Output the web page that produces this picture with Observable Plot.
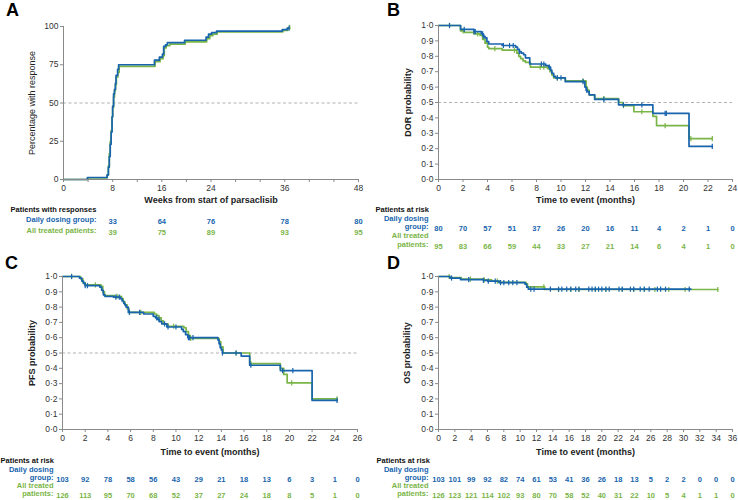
<!DOCTYPE html>
<html><head><meta charset="utf-8">
<script src="https://cdn.jsdelivr.net/npm/d3@7"></script>
<script src="https://cdn.jsdelivr.net/npm/@observablehq/plot@0.6"></script>
<style>
body{margin:0;background:#fff;font-family:"Liberation Sans",Arial,sans-serif;}
#root{position:relative;width:738px;height:500px;overflow:hidden;background:#fff;}
.panel{position:absolute;}
.letter{position:absolute;font-weight:bold;font-size:18px;line-height:18px;color:#000;}
</style></head><body><div id="root"></div>
<script>
const BLUE = "#1865ad", GREEN = "#7ab547", AXIS = "#8a8a8a", TXT = "#333";

// ---------- Panel A: cumulative response (weeks) ----------
const aDailyT = [0, 3.9, 7.1, 7.3, 7.45, 7.6, 7.75, 7.9, 8.0, 8.15, 8.3, 8.45, 8.55, 8.8, 8.97, 14.8, 15.6, 16.1, 16.3, 16.6, 16.9, 19.7, 23.2, 23.6, 24.1, 24.9, 35.6, 36.4, 36.7];
const aDailyP = [0, 1.3, 3, 8, 15, 23, 31, 41, 48, 56, 59, 63, 68, 72, 75, 78, 80, 82, 87, 88, 89.5, 91, 93, 95, 96, 97, 98, 99, 99];
const aAllT = [0, 3.9, 7.1, 7.3, 7.45, 7.6, 7.75, 7.9, 8.0, 8.15, 8.3, 8.45, 8.6, 8.85, 9.05, 14.9, 15.7, 16.2, 16.4, 16.7, 17.3, 19.8, 23.3, 23.8, 24.3, 25.0, 35.7, 36.5, 36.8];
const aAllP = [0, 1.1, 3, 9, 17, 25, 32, 41, 47, 54, 58, 62, 67, 70, 74, 77, 79, 81, 86, 87.5, 88.5, 90, 92, 94, 95, 96.5, 97.5, 99, 99.5];
const aDailyCens = [36.7];
const aAllCens = [36.8];
const aTableWeeks = [8, 16, 24, 36, 48];
const aTableDaily = [33, 64, 76, 78, 80];
const aTableAll = [39, 75, 89, 93, 95];
const aXTicks = [0, 4, 8, 12, 16, 20, 24, 28, 32, 36, 40, 44, 48];
const aXLabels = [0, 8, 16, 24, 36, 48];
const aYTicks = [0, 25, 50, 75, 100];

// ---------- Panel B: DOR ----------
const bDailyT = [0, 1.8, 2.9, 3.5, 3.65, 3.8, 3.95, 4.1, 5.2, 6.3, 6.45, 6.6, 6.75, 6.95, 7.1, 7.45, 8.75, 9.0, 9.15, 9.25, 9.4, 9.55, 10.35, 11.95, 12.05, 12.15, 12.3, 12.75, 14.7, 17.5, 20.45, 22.35];
const bDailyS = [1, 0.975, 0.96, 0.945, 0.93, 0.92, 0.895, 0.88, 0.87, 0.86, 0.845, 0.83, 0.82, 0.81, 0.79, 0.75, 0.74, 0.73, 0.71, 0.69, 0.67, 0.66, 0.635, 0.60, 0.58, 0.57, 0.55, 0.52, 0.485, 0.43, 0.215, 0.215];
const bAllT = [0, 1.8, 2.1, 2.9, 3.4, 3.6, 3.8, 4.0, 4.1, 5.2, 6.4, 6.55, 6.7, 6.9, 7.1, 7.5, 8.9, 9.1, 9.25, 9.4, 10.35, 12.05, 12.15, 12.3, 12.75, 14.7, 15.05, 15.95, 17.5, 17.8, 20.45, 22.35];
const bAllS = [1, 0.965, 0.955, 0.945, 0.935, 0.91, 0.885, 0.86, 0.85, 0.84, 0.82, 0.80, 0.785, 0.77, 0.76, 0.73, 0.72, 0.70, 0.68, 0.66, 0.64, 0.60, 0.58, 0.55, 0.525, 0.50, 0.48, 0.44, 0.41, 0.35, 0.265, 0.265];
const bDailyCens = [0.9, 2.1, 2.9, 3.0, 3.6, 3.7, 5.3, 5.8, 6.1, 6.6, 8.4, 8.6, 9.05, 9.7, 10.0, 11.8, 12.1, 13.5, 15.1, 16.6, 18.5, 18.6, 22.35];
const bAllCens = [0.9, 2.0, 3.2, 4.6, 6.2, 8.3, 8.6, 9.7, 11.8, 13.5, 15.1, 16.6, 18.5, 20.6, 22.35];
const bTableDaily = [80, 70, 57, 51, 37, 26, 20, 16, 11, 4, 2, 1, 0];
const bTableAll = [95, 83, 66, 59, 44, 33, 27, 21, 14, 6, 4, 1, 0];

// ---------- Panel C: PFS ----------
const cDailyT = [0, 1.5, 1.7, 1.85, 2.0, 3.3, 3.45, 3.6, 3.75, 4.5, 5.1, 5.25, 5.4, 5.5, 5.6, 5.8, 7.15, 8.0, 8.2, 8.35, 8.55, 8.75, 9.2, 10.5, 10.65, 10.85, 11.05, 13.7, 13.8, 13.9, 14.0, 14.1, 15.75, 16.5, 19.2, 22.0, 24.2];
const cDailyS = [1, 0.99, 0.97, 0.955, 0.94, 0.93, 0.91, 0.88, 0.87, 0.865, 0.855, 0.84, 0.825, 0.815, 0.80, 0.765, 0.755, 0.74, 0.73, 0.72, 0.705, 0.69, 0.67, 0.655, 0.64, 0.62, 0.60, 0.585, 0.56, 0.535, 0.52, 0.50, 0.48, 0.42, 0.385, 0.19, 0.19];
const cAllT = [0, 1.6, 1.8, 2.0, 3.4, 3.55, 3.7, 4.6, 5.2, 5.35, 5.5, 5.7, 5.85, 8.1, 8.3, 8.5, 8.7, 8.9, 9.3, 10.7, 10.9, 11.1, 11.25, 13.8, 13.95, 14.15, 16.5, 19.2, 19.5, 19.8, 22.0, 24.2];
const cAllS = [1, 0.985, 0.96, 0.945, 0.935, 0.90, 0.875, 0.87, 0.855, 0.835, 0.815, 0.79, 0.765, 0.755, 0.745, 0.73, 0.71, 0.69, 0.675, 0.665, 0.64, 0.615, 0.595, 0.575, 0.54, 0.50, 0.43, 0.40, 0.36, 0.305, 0.20, 0.20];
const cDailyCens = [0.8, 2.0, 2.2, 4.7, 5.0, 5.9, 6.8, 8.3, 8.5, 9.0, 9.3, 10.0, 11.1, 11.2, 11.5, 14.1, 15.3, 16.6, 19.4, 20.3, 24.2];
const cAllCens = [0.8, 2.9, 4.8, 6.9, 9.8, 11.3, 15.3, 16.6, 20.2, 24.2];
const cTableDaily = [103, 92, 78, 58, 56, 43, 29, 21, 18, 13, 6, 3, 1, 0];
const cTableAll = [126, 113, 95, 70, 68, 52, 37, 27, 24, 18, 8, 5, 1, 0];

// ---------- Panel D: OS ----------
const dDailyT = [0, 1.4, 2.7, 5.5, 6.0, 7.4, 10.6, 10.8, 11.0, 30.9];
const dDailyS = [1, 0.99, 0.98, 0.975, 0.97, 0.96, 0.95, 0.93, 0.917, 0.917];
const dAllT = [0, 1.5, 2.8, 5.6, 6.5, 7.5, 10.7, 10.9, 13.0, 34.2];
const dAllS = [1, 0.992, 0.983, 0.978, 0.97, 0.962, 0.952, 0.932, 0.915, 0.915];
const dDailyCens = [1.6, 3.7, 5.5, 6.1, 6.95, 7.6, 8.0, 8.6, 9.1, 9.6, 11.3, 11.7, 13.7, 14.7, 15.1, 15.7, 16.2, 16.8, 17.2, 18.4, 18.8, 19.2, 19.6, 20.0, 20.5, 20.9, 22.1, 22.5, 23.5, 23.9, 24.7, 25.2, 25.8, 26.8, 27.2, 27.8, 30.7];
const dAllCens = [1.3, 3.9, 5.6, 7.2, 12.9, 14.7, 16.2, 17.2, 19.2, 20.5, 22.5, 23.9, 25.2, 26.5, 28.2, 30.2, 34.2];
const dTableDaily = [103, 101, 99, 92, 82, 74, 61, 53, 41, 36, 26, 18, 13, 5, 2, 2, 0, 0, 0];
const dTableAll = [126, 123, 121, 114, 102, 93, 80, 70, 58, 52, 40, 31, 22, 10, 5, 4, 1, 1, 0];

// ---------- helpers ----------
const pts = (ts, vs) => ts.map((t, i) => ({t, s: vs[i]}));
function stepAt(curve, t) { let v = curve[0].s; for (const p of curve) { if (p.t <= t) v = p.s; else break; } return v; }
const vTick = {draw(ctx, size) { const r = Math.sqrt(size / Math.PI); ctx.moveTo(0, -r); ctx.lineTo(0, r); }};
const midDot = d => d.toFixed(1).replace(".", "\u00b7");
const range = (a, b, s) => d3.range(a, b + s / 2, s);

function panel(o) {
  const yMin = o.yDomain[0];
  const marks = [];
  if (o.dashY != null) marks.push(Plot.ruleY([o.dashY], {stroke: "#a8a8a8", strokeDasharray: "3,2.5", strokeWidth: 0.9}));
  for (const [curve, cens, color] of [[o.green, o.greenCens, GREEN], [o.blue, o.blueCens, BLUE]]) {
    marks.push(Plot.line(curve, {x: "t", y: "s", curve: "step-after", stroke: color, strokeWidth: 1.7}));
    marks.push(Plot.dot(cens, {x: d => d, y: d => stepAt(curve, d), symbol: vTick, r: 2.6, stroke: color, fill: "none", strokeWidth: 1.2}));
  }
  marks.push(Plot.ruleX([o.xDomain[0]], {stroke: AXIS}));
  marks.push(Plot.ruleY([yMin], {stroke: AXIS}));
  marks.push(Plot.axisY({ticks: o.yTicks, tickFormat: o.yFmt, tickSize: 3, tickPadding: 2, stroke: AXIS, fill: TXT, fontSize: 8.5, label: null}));
  marks.push(Plot.axisX({ticks: o.xTicks, tickFormat: o.xFmt, tickSize: 3, tickPadding: 2, stroke: AXIS, fill: TXT, fontSize: 8.5, label: null}));
  marks.push(Plot.text([o.yLabel], {text: d => d, frameAnchor: "left", textAnchor: "middle", dx: o.yLabelDx, rotate: -90, fontSize: 9, fontWeight: o.yLabelWeight, fill: "#222"}));
  marks.push(Plot.text([o.xLabel], {text: d => d, frameAnchor: "bottom", dy: o.xLabelDy, fontSize: 9, fontWeight: "bold", fill: "#222"}));
  // risk table
  const t = o.table;
  marks.push(Plot.text([t.title], {text: d => d, frameAnchor: "bottom-left", dx: t.titleDx, dy: t.titleDy, textAnchor: "start", fontSize: 7.5, fontWeight: "bold", fill: "#111"}));
  for (const row of t.rows) {
    row.labels.forEach(([lab, dy]) => {
      marks.push(Plot.text([lab], {text: d => d, frameAnchor: "bottom-left", dx: t.labelDx, dy, textAnchor: "end", fontSize: 7.5, fontWeight: "bold", fill: row.color}));
    });
    marks.push(Plot.text(row.values, {x: (d, i) => t.at[i], y: () => yMin, dy: row.dy, text: d => String(d), fontSize: 7.5, fontWeight: "bold", fill: row.color}));
  }
  return Plot.plot({
    width: o.width, height: o.height,
    marginLeft: o.ml, marginRight: o.mr, marginTop: o.mt, marginBottom: o.mb,
    x: {domain: o.xDomain}, y: {domain: o.yDomain},
    style: {background: "transparent", fontFamily: "Liberation Sans, Arial, sans-serif", fontSize: "8.5px", overflow: "visible"},
    marks
  });
}

const root = document.getElementById("root");
function place(node, left, top) { const d = document.createElement("div"); d.className = "panel"; d.style.left = left + "px"; d.style.top = top + "px"; d.appendChild(node); root.appendChild(d); }
function letter(ch, left, top) { const d = document.createElement("div"); d.className = "letter"; d.textContent = ch; d.style.left = left + "px"; d.style.top = top + "px"; root.appendChild(d); }

const bxTicks = range(0, 24, 2), cxTicks = range(0, 26, 2), dxTicks = range(0, 36, 2);
const probTicks = range(0, 1, 0.1);

place(panel({
  width: 369, height: 252, ml: 63, mr: 11, mt: 26, mb: 73,
  xDomain: [0, 48], yDomain: [0, 100], xTicks: aXTicks, xFmt: d => aXLabels.includes(d) ? String(d) : "",
  yTicks: aYTicks, yFmt: d => String(d), dashY: 50,
  blue: pts(aDailyT, aDailyP), green: pts(aAllT, aAllP), blueCens: aDailyCens, greenCens: aAllCens,
  yLabel: "Percentage with response", yLabelDx: -31, yLabelWeight: "normal",
  xLabel: "Weeks from start of parsaclisib", xLabelDy: 23,
  table: {title: "Patients with responses", titleDx: -53, titleDy: 32, labelDx: 33, at: aTableWeeks,
    rows: [{color: BLUE, labels: [["Daily dosing group:", 42]], values: aTableDaily, dy: 42},
           {color: GREEN, labels: [["All treated patients:", 53]], values: aTableAll, dy: 53}]}
}), 0, 0);

place(panel({
  width: 368, height: 252, ml: 68, mr: 6, mt: 25, mb: 73,
  xDomain: [0, 24], yDomain: [0, 1], xTicks: bxTicks, xFmt: d => String(d),
  yTicks: probTicks, yFmt: midDot, dashY: 0.5,
  blue: pts(bDailyT, bDailyS), green: pts(bAllT, bAllS), blueCens: bDailyCens, greenCens: bAllCens,
  yLabel: "DOR probability", yLabelDx: -30, yLabelWeight: "bold",
  xLabel: "Time to event (months)", xLabelDy: 23,
  table: {title: "Patients at risk", titleDx: -63, titleDy: 32, labelDx: -10, at: bxTicks,
    rows: [{color: BLUE, labels: [["Daily dosing", 41], ["group:", 49]], values: bTableDaily, dy: 49},
           {color: GREEN, labels: [["All treated", 58], ["patients:", 67]], values: bTableAll, dy: 67}]}
}), 370, 0);

place(panel({
  width: 369, height: 250, ml: 62, mr: 12, mt: 26, mb: 71,
  xDomain: [0, 26], yDomain: [0, 1], xTicks: cxTicks, xFmt: d => String(d),
  yTicks: probTicks, yFmt: midDot, dashY: 0.5,
  blue: pts(cDailyT, cDailyS), green: pts(cAllT, cAllS), blueCens: cDailyCens, greenCens: cAllCens,
  yLabel: "PFS probability", yLabelDx: -30, yLabelWeight: "bold",
  xLabel: "Time to event (months)", xLabelDy: 25,
  table: {title: "Patients at risk", titleDx: -62, titleDy: 33, labelDx: -9, at: cxTicks,
    rows: [{color: BLUE, labels: [["Daily dosing", 42], ["group:", 50]], values: cTableDaily, dy: 50},
           {color: GREEN, labels: [["All treated", 58], ["patients:", 66]], values: cTableAll, dy: 66}]}
}), 0, 250);

place(panel({
  width: 368, height: 250, ml: 68, mr: 6, mt: 26, mb: 71,
  xDomain: [0, 36], yDomain: [0, 1], xTicks: dxTicks, xFmt: d => String(d),
  yTicks: probTicks, yFmt: midDot, dashY: null,
  blue: pts(dDailyT, dDailyS), green: pts(dAllT, dAllS), blueCens: dDailyCens, greenCens: dAllCens,
  yLabel: "OS probability", yLabelDx: -31, yLabelWeight: "bold",
  xLabel: "Time to event (months)", xLabelDy: 25,
  table: {title: "Patients at risk", titleDx: -62, titleDy: 33, labelDx: -10, at: dxTicks,
    rows: [{color: BLUE, labels: [["Daily dosing", 42], ["group:", 50]], values: dTableDaily, dy: 50},
           {color: GREEN, labels: [["All treated", 58], ["patients:", 66]], values: dTableAll, dy: 66}]}
}), 370, 250);

letter("A", 6, 1);
letter("B", 387, 1);
letter("C", 5, 254);
letter("D", 387, 254);
</script></body></html>
